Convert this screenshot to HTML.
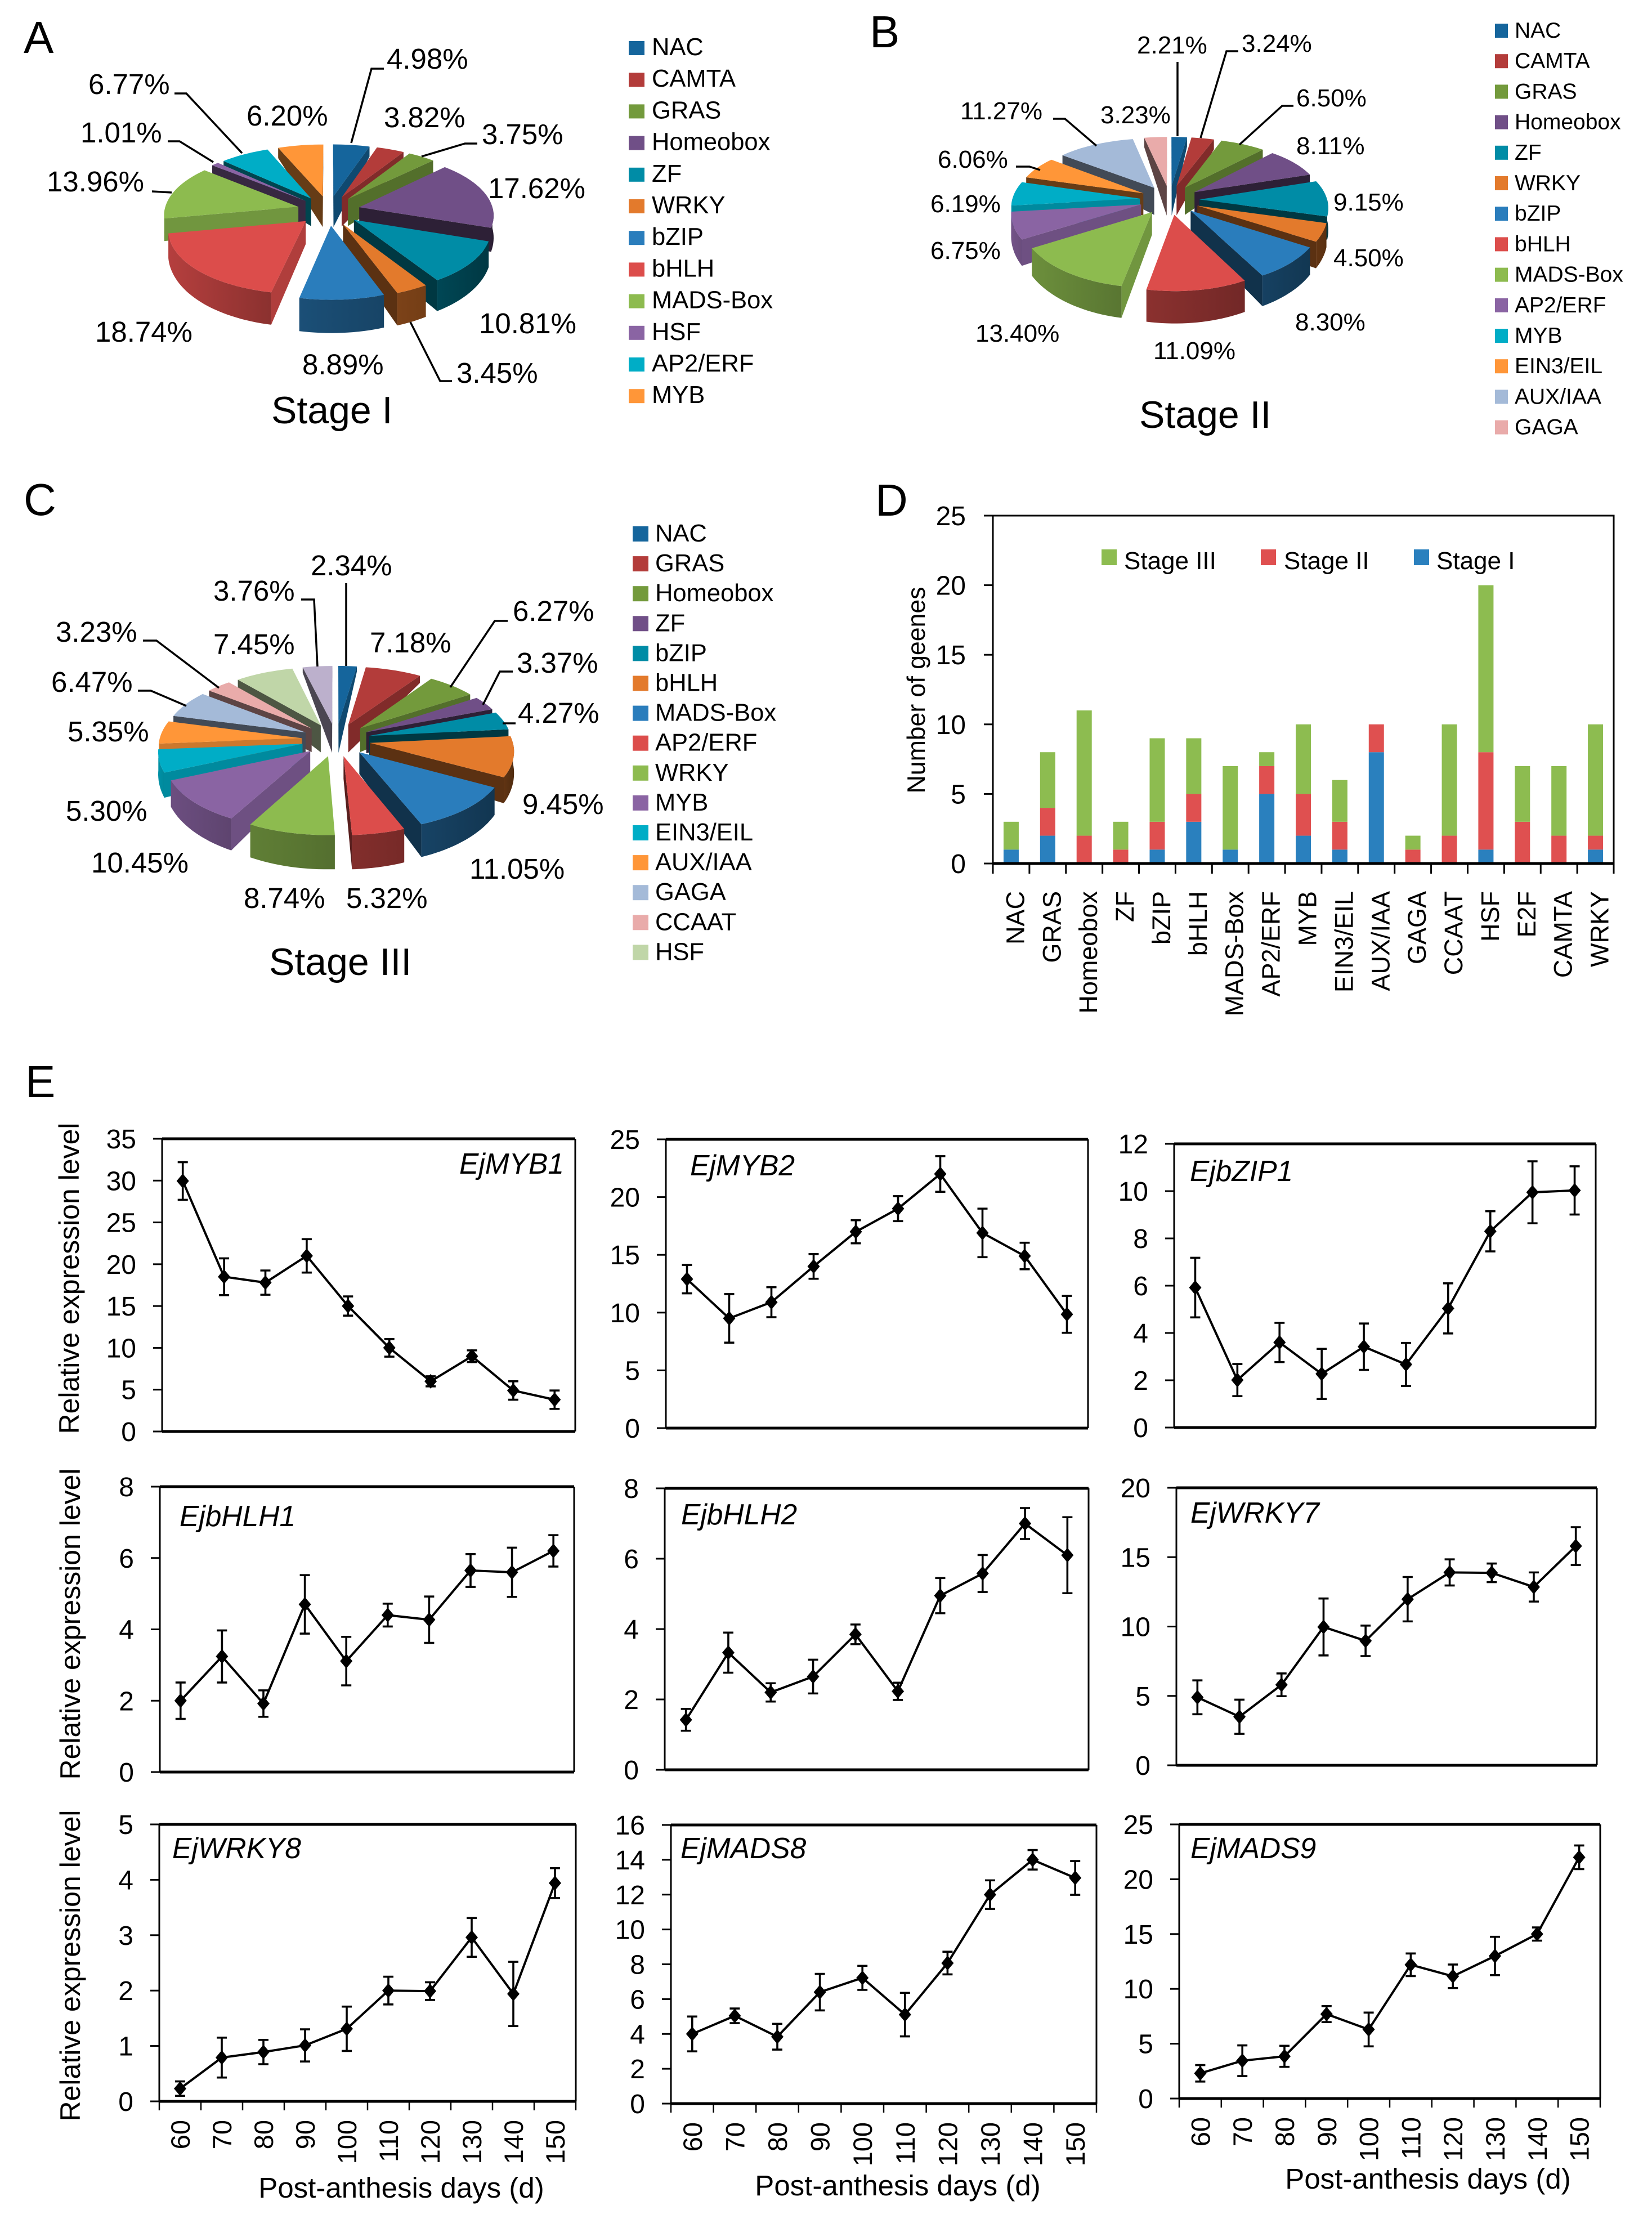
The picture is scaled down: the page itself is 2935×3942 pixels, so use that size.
<!DOCTYPE html>
<html lang="en">
<head>
<meta charset="utf-8">
<title>Transcription factor distribution and expression</title>
<style>
html,body{margin:0;padding:0;background:#fff;}
svg{display:block;}
text{font-family:"Liberation Sans",sans-serif;fill:#000;}
.panel{font-size:80px;}
.stage{font-size:68px;}
.pa{font-size:51px;}
.pb{font-size:44px;}
.leader{fill:none;stroke:#000;stroke-width:3.5;}
</style>
</head>
<body>
<svg id="fig" xmlns="http://www.w3.org/2000/svg" width="2935" height="3942" viewBox="0 0 2935 3942">
<rect x="0" y="0" width="2935" height="3942" fill="#fff"/>
<defs id="defs"></defs>
<g id="pieA"></g>
<g id="pieB"></g>
<g id="pieC"></g>

<text class="panel" x="42" y="94">A</text>
<text class="panel" x="1545" y="84">B</text>
<text class="panel" x="42" y="915">C</text>
<text class="panel" x="1555" y="916">D</text>
<text class="panel" x="45" y="1949">E</text>

<text class="stage" x="482" y="752">Stage I</text>
<text class="stage" x="2024" y="760">Stage II</text>
<text class="stage" x="478" y="1732">Stage III</text>

<g>
<text class="pa" x="687" y="122">4.98%</text>
<text class="pa" x="157" y="167">6.77%</text>
<text class="pa" x="438" y="223">6.20%</text>
<text class="pa" x="682" y="226">3.82%</text>
<text class="pa" x="856" y="256">3.75%</text>
<text class="pa" x="143" y="253">1.01%</text>
<text class="pa" x="867" y="352">17.62%</text>
<text class="pa" x="83" y="340">13.96%</text>
<text class="pa" x="851" y="592">10.81%</text>
<text class="pa" x="169" y="607">18.74%</text>
<text class="pa" x="537" y="665">8.89%</text>
<text class="pa" x="811" y="680">3.45%</text>
<polyline class="leader" points="682,122 660,122 624,254"/>
<polyline class="leader" points="310,166 331,166 430,272"/>
<polyline class="leader" points="298,251 319,251 379,288"/>
<polyline class="leader" points="848,255 826,255 749,278"/>
<polyline class="leader" points="270,340 305,342"/>
<polyline class="leader" points="803,677 782,677 729,572"/>
</g>

<g>
<text class="pb" x="2020" y="95">2.21%</text>
<text class="pb" x="2206" y="92">3.24%</text>
<text class="pb" x="2303" y="189">6.50%</text>
<text class="pb" x="2303" y="274">8.11%</text>
<text class="pb" x="1955" y="219">3.23%</text>
<text class="pb" x="1706" y="212">11.27%</text>
<text class="pb" x="1666" y="298">6.06%</text>
<text class="pb" x="2369" y="374">9.15%</text>
<text class="pb" x="1653" y="377">6.19%</text>
<text class="pb" x="2369" y="473">4.50%</text>
<text class="pb" x="1653" y="460">6.75%</text>
<text class="pb" x="2301" y="587">8.30%</text>
<text class="pb" x="1733" y="607">13.40%</text>
<text class="pb" x="2049" y="638">11.09%</text>
<polyline class="leader" points="2092,110 2092,242"/>
<polyline class="leader" points="2200,91 2179,91 2133,245"/>
<polyline class="leader" points="2298,188 2278,188 2202,257"/>
<polyline class="leader" points="1871,211 1892,211 1948,259"/>
<polyline class="leader" points="1805,296 1829,296 1848,302"/>
</g>

<g>
<text class="pa" x="552" y="1022">2.34%</text>
<text class="pa" x="379" y="1067">3.76%</text>
<text class="pa" x="911" y="1103">6.27%</text>
<text class="pa" x="379" y="1162">7.45%</text>
<text class="pa" x="657" y="1159">7.18%</text>
<text class="pa" x="99" y="1140">3.23%</text>
<text class="pa" x="918" y="1195">3.37%</text>
<text class="pa" x="91" y="1229">6.47%</text>
<text class="pa" x="920" y="1284">4.27%</text>
<text class="pa" x="120" y="1317">5.35%</text>
<text class="pa" x="928" y="1446">9.45%</text>
<text class="pa" x="117" y="1458">5.30%</text>
<text class="pa" x="162" y="1550">10.45%</text>
<text class="pa" x="834" y="1561">11.05%</text>
<text class="pa" x="433" y="1613">8.74%</text>
<text class="pa" x="615" y="1613">5.32%</text>
<polyline class="leader" points="615,1036 615,1183"/>
<polyline class="leader" points="535,1065 558,1065 564,1184"/>
<polyline class="leader" points="902,1103 879,1103 800,1221"/>
<polyline class="leader" points="911,1193 888,1193 858,1252"/>
<polyline class="leader" points="916,1285 893,1285"/>
<polyline class="leader" points="254,1138 278,1138 389,1222"/>
<polyline class="leader" points="245,1227 268,1227 331,1254"/>
</g>

<text font-size="50" transform="translate(140,2271) rotate(-90)" text-anchor="middle">Relative expression level</text>
<text font-size="50" transform="translate(142,2885) rotate(-90)" text-anchor="middle">Relative expression level</text>
<text font-size="50" transform="translate(142,3492) rotate(-90)" text-anchor="middle">Relative expression level</text>
<text font-size="51" x="713" y="3904" text-anchor="middle">Post-anthesis days (d)</text>
<text font-size="51" x="1595" y="3900" text-anchor="middle">Post-anthesis days (d)</text>
<text font-size="51" x="2537" y="3888" text-anchor="middle">Post-anthesis days (d)</text>

<g id="barChart">
<text font-size="44.6" transform="translate(1643,1226) rotate(-90)" text-anchor="middle">Number of geenes</text>
<rect x="1957" y="976" width="27" height="28" fill="#8DBC50"/>
<text font-size="44" x="1997" y="1011">Stage III</text>
<rect x="2240" y="976" width="27" height="28" fill="#DF5050"/>
<text font-size="44" x="2281" y="1011">Stage II</text>
<rect x="2512" y="976" width="27" height="28" fill="#2A80BE"/>
<text font-size="44" x="2552" y="1011">Stage I</text>
</g>
<g id="lineCharts"></g>
</svg>

<script>
/* ---------- pie data ---------- */
const pieANames = ['NAC','CAMTA','GRAS','Homeobox','ZF','WRKY','bZIP','bHLH','MADS-Box','HSF','AP2/ERF','MYB'];
const pieAValues = [4.98,3.82,3.75,17.62,10.81,3.45,8.89,18.74,13.96,1.01,6.77,6.20];
const pieBNames = ['NAC','CAMTA','GRAS','Homeobox','ZF','WRKY','bZIP','bHLH','MADS-Box','AP2/ERF','MYB','EIN3/EIL','AUX/IAA','GAGA'];
const pieBValues = [2.21,3.24,6.50,8.11,9.15,4.50,8.30,11.09,13.40,6.75,6.19,6.06,11.27,3.23];
const pieCNames = ['NAC','GRAS','Homeobox','ZF','bZIP','bHLH','MADS-Box','AP2/ERF','WRKY','MYB','EIN3/EIL','AUX/IAA','GAGA','CCAAT','HSF'];
const pieCValues = [2.34,7.18,6.27,3.37,4.27,9.45,11.05,5.32,8.74,10.45,5.30,5.35,6.47,3.23,7.45,3.76];
const slicePalette = ['#15659C','#B33C3A','#739A3C','#704F87','#008CA6','#E37A2C','#2A7DBC','#DC4D4B','#8DBB4F','#8A64A3','#00ADC6','#FF9638','#A4BAD8','#E9ABAA','#C0D6A8','#BCB0CC'];

/* ---------- stacked bar data ---------- */
const barCategories = ['NAC','GRAS','Homeobox','ZF','bZIP','bHLH','MADS-Box','AP2/ERF','MYB','EIN3/EIL','AUX/IAA','GAGA','CCAAT','HSF','E2F','CAMTA','WRKY'];
const stage1Counts = [1,2,0,0,1,3,1,5,2,1,8,0,0,1,0,0,1];
const stage2Counts = [0,2,2,1,2,2,0,2,3,2,2,1,2,7,3,2,1];
const stage3Counts = [2,4,9,2,6,4,6,1,5,3,0,1,8,12,4,5,8];
const barTicks = [0,5,10,15,20,25];

/* ---------- line chart data ---------- */
const days = [60,70,80,90,100,110,120,130,140,150];
const myb1Ticks = [0,5,10,15,20,25,30,35];
const myb1Values = [29.95,18.5,17.8,21,15,10,6,9,4.9,3.8];
const myb1Errors = [2.25,2.2,1.45,2,1.15,1.05,0.6,0.7,1.1,1.1];
const myb2Ticks = [0,5,10,15,20,25];
const myb2Values = [12.9,9.5,10.9,14,17,19,22,16.9,14.9,9.85];
const myb2Errors = [1.23,2.1,1.3,1.07,1,1.08,1.54,2.1,1.15,1.6];
const bzip1Ticks = [0,2,4,6,8,10,12];
const bzip1Values = [5.92,2.01,3.6,2.27,3.42,2.67,5.04,8.3,9.95,10.03];
const bzip1Errors = [1.26,0.68,0.83,1.06,0.98,0.91,1.06,0.85,1.31,1.02];
const bhlh1Ticks = [0,2,4,6,8];
const bhlh1Values = [2,3.24,1.92,4.7,3.11,4.4,4.27,5.65,5.6,6.2];
const bhlh1Errors = [0.51,0.73,0.37,0.82,0.68,0.32,0.65,0.46,0.69,0.44];
const bhlh2Ticks = [0,2,4,6,8];
const bhlh2Values = [1.42,3.33,2.2,2.65,3.85,2.23,4.95,5.58,7,6.1];
const bhlh2Errors = [0.31,0.57,0.26,0.48,0.28,0.245,0.5,0.525,0.44,1.08];
const wrky7Ticks = [0,5,10,15,20];
const wrky7Values = [4.9,3.5,5.8,9.97,8.97,11.97,13.9,13.87,12.85,15.8];
const wrky7Errors = [1.22,1.23,0.82,2.05,1.1,1.6,0.94,0.67,1.05,1.36];
const wrky8Ticks = [0,1,2,3,4,5];
const wrky8Values = [0.23,0.79,0.89,1.01,1.31,2,1.99,2.96,1.94,3.94];
const wrky8Errors = [0.13,0.36,0.22,0.29,0.4,0.25,0.16,0.35,0.58,0.27];
const mads8Ticks = [0,2,4,6,8,10,12,14,16];
const mads8Values = [4,5.04,3.84,6.4,7.22,5.11,8.07,12,14,12.96];
const mads8Errors = [1,0.42,0.74,1.05,0.69,1.25,0.65,0.82,0.56,0.97];
const mads9Ticks = [0,5,10,15,20,25];
const mads9Values = [2.3,3.45,3.85,7.7,6.3,12.2,11.15,13,15,22];
const mads9Errors = [0.75,1.4,0.96,0.73,1.54,1.03,1.07,1.75,0.6,1.08];

const NS = 'http://www.w3.org/2000/svg';
const svgRoot = document.getElementById('fig');
const defsEl = document.getElementById('defs');

function make(tag, attrs, parent) {
  const el = document.createElementNS(NS, tag);
  for (const k in attrs) el.setAttribute(k, attrs[k]);
  parent.appendChild(el);
  return el;
}
function shade(hex, f) {
  const n = parseInt(hex.slice(1), 16);
  const r = Math.round(((n >> 16) & 255) * f), g = Math.round(((n >> 8) & 255) * f), b = Math.round((n & 255) * f);
  return 'rgb(' + r + ',' + g + ',' + b + ')';
}
function slug(s) { return s.toLowerCase().replace(/[^a-z0-9]+/g, '-'); }

/* ---------- exploded 3D pie ---------- */
let gradCounter = 0;
function drawPie(group, cfg, values, names) {
  const rad = Math.PI / 180;
  function proj(X, Y, z, extra) {
    const u = Y / cfg.R;
    const fx = 1 / (1 - cfg.kx * u);
    return [cfg.cx + X * fx, cfg.cy + cfg.T * Y * (1 + cfg.m * u) + z * (cfg.D * (1 + cfg.d * u) + (extra || 0))];
  }
  function radialShade(t) {
    if (t < 60) return 0.72;
    if (t <= 180 || t > 270) return 0.4;
    return 0.8;
  }
  function outerShade(t) { return 0.35 + 0.5 * (t - 90) / 180; }
  function poly(pts) {
    return 'M' + pts.map(p => p[0].toFixed(1) + ' ' + p[1].toFixed(1)).join('L') + 'Z';
  }
  function area(q) {
    let s = 0;
    for (let i = 0; i < q.length; i++) {
      const a = q[i], b = q[(i + 1) % q.length];
      s += a[0] * b[1] - b[0] * a[1];
    }
    return s;
  }
  const total = values.reduce((a, b) => a + b, 0);
  let cum = 0;
  const slices = values.map((v, i) => {
    const t0 = cum / total * 360;
    cum += v;
    const t1 = cum / total * 360;
    const mid = (t0 + t1) / 2;
    return { i, t0, t1, mid, ex: cfg.e * Math.sin(mid * rad), ey: -cfg.e * Math.cos(mid * rad) };
  });
  slices.slice().sort((a, b) => a.ey - b.ey).forEach(s => {
    const color = slicePalette[s.i];
    const label = names[s.i] ? slug(names[s.i]) : 'unlabelled';
    const g = make('g', {}, group);
    
    
    const rim = (t, z) => proj(s.ex + cfg.R * Math.sin(t * rad), s.ey - cfg.R * Math.cos(t * rad), z);
    const apexExtra = cfg.b * Math.pow(Math.max(0, Math.cos(s.mid * rad)), 2);
    const apexTop = proj(s.ex, s.ey, 0);
    const apexBot = proj(s.ex, s.ey, 1, apexExtra);

    const startQuad = [apexTop, rim(s.t0, 0), rim(s.t0, 1), apexBot];
    if (area(startQuad) < 0) {
      const w = make('path', { d: poly(startQuad), fill: shade(color, radialShade(s.t0)) }, g);
      
      
    }
    const endQuad = [apexTop, rim(s.t1, 0), rim(s.t1, 1), apexBot];
    if (area(endQuad) > 0) {
      const w = make('path', { d: poly(endQuad), fill: shade(color, radialShade(s.t1)) }, g);
      
      
    }
    const a0 = Math.max(s.t0, 90), a1 = Math.min(s.t1, 270);
    if (a1 > a0) {
      const upper = [], lower = [];
      for (let t = a0; ; t += 2) {
        const tt = Math.min(t, a1);
        upper.push(rim(tt, 0));
        lower.push(rim(tt, 1));
        if (tt >= a1) break;
      }
      const pts = upper.concat(lower.reverse());
      const xs = pts.map(p => p[0]);
      const gid = 'wallGrad' + (gradCounter++);
      const lg = make('linearGradient', { id: gid, gradientUnits: 'userSpaceOnUse', x1: Math.min(...xs), x2: Math.max(...xs), y1: 0, y2: 0 }, defsEl);
      make('stop', { offset: '0', 'stop-color': shade(color, outerShade(a1)) }, lg);
      make('stop', { offset: '1', 'stop-color': shade(color, outerShade(a0)) }, lg);
      const w = make('path', { d: poly(pts), fill: 'url(#' + gid + ')' }, g);
      
      
    }
    const top = [apexTop];
    for (let t = s.t0; ; t += 2) {
      const tt = Math.min(t, s.t1);
      top.push(rim(tt, 0));
      if (tt >= s.t1) break;
    }
    const face = make('path', { d: poly(top), fill: color }, g);
    
    
  });
}

function drawPieLegend(group, cfg, names) {
  names.forEach((name, i) => {
    const baseline = cfg.y + i * cfg.step;
    const sw = make('rect', { x: cfg.x, y: baseline - cfg.h, width: cfg.w, height: cfg.h, fill: slicePalette[i] }, group);
    
    
    const t = make('text', { x: cfg.textX, y: baseline, 'font-size': cfg.font }, group);
    t.textContent = name;
    
    
  });
}

drawPie(document.getElementById('pieA'), { cx: 584, cy: 374, R: 238, T: 0.47, kx: 0.11, m: 0.12, e: 56, D: 38, d: 0.45, b: 21 }, pieAValues, pieANames);
drawPie(document.getElementById('pieB'), { cx: 2078, cy: 355, R: 227, T: 0.49, kx: 0.11, m: 0.15, e: 53, D: 37, d: 0.45, b: 20 }, pieBValues, pieBNames);
drawPie(document.getElementById('pieC'), { cx: 597, cy: 1314, R: 253, T: 0.48, kx: 0.10, m: 0.105, e: 61, D: 35, d: 0.6, b: 22 }, pieCValues, pieCNames);
drawPieLegend(document.getElementById('pieA'), { x: 1117, y: 98, step: 56.2, w: 28, h: 25, textX: 1158, font: 43.5 }, pieANames);
drawPieLegend(document.getElementById('pieB'), { x: 2656, y: 67, step: 54.2, w: 23, h: 25, textX: 2691, font: 39 }, pieBNames);
drawPieLegend(document.getElementById('pieC'), { x: 1124, y: 962, step: 53.1, w: 28, h: 27, textX: 1164, font: 43.5 }, pieCNames);

/* ---------- stacked bars ---------- */
(function drawBars() {
  const g = document.getElementById('barChart');
  const left = 1764, right = 2867, top = 916, bottom = 1534;
  const maxV = barTicks[barTicks.length - 1];
  const yScale = v => bottom - v / maxV * (bottom - top);
  const band = (right - left) / barCategories.length;
  const barW = 27;
  barCategories.forEach((cat, i) => {
    const cx = left + (i + 0.5) * band;
    const stacks = [[stage1Counts[i], '#2A80BE', 'stage-1'], [stage2Counts[i], '#DF5050', 'stage-2'], [stage3Counts[i], '#8DBC50', 'stage-3']];
    let base = 0;
    stacks.forEach(st => {
      if (st[0] > 0) {
        const r = make('rect', { x: cx - barW / 2, y: yScale(base + st[0]), width: barW, height: yScale(base) - yScale(base + st[0]), fill: st[1] }, g);
        
        
      }
      base += st[0];
    });
    const lab = make('text', { transform: 'translate(' + (cx + 23) + ',1583) rotate(-90)', 'text-anchor': 'end', 'font-size': 45 }, g);
    lab.textContent = cat;
    
    
  });
  for (let i = 0; i <= barCategories.length; i++) {
    const x = left + i * band;
    const tk = make('line', { x1: x, x2: x, y1: bottom, y2: bottom + 18, stroke: '#000', 'stroke-width': 3 }, g);
    
    
  }
  barTicks.forEach(v => {
    const y = yScale(v);
    const tk = make('line', { x1: left - 16, x2: left, y1: y, y2: y, stroke: '#000', 'stroke-width': 3 }, g);
    
    
    const t = make('text', { x: 1716, y: y + 17, 'text-anchor': 'end', 'font-size': 48 }, g);
    t.textContent = v;
    
    
  });
  const frame = make('path', { d: 'M' + left + ' ' + top + 'H' + right + 'V' + bottom + 'H' + left + 'Z', fill: 'none', stroke: '#000', 'stroke-width': 3 }, g);
  
  
  const axis = make('line', { x1: left, x2: right, y1: bottom, y2: bottom, stroke: '#000', 'stroke-width': 5 }, g);
  
  
})();

/* ---------- line charts ---------- */
function drawLineChart(cfg, ticks, values, errors) {
  const root = document.getElementById('lineCharts');
  const g = make('g', {}, root);
  
  
  const { left, right, top, bottom } = cfg;
  const maxV = ticks[ticks.length - 1];
  const yScale = v => bottom - v / maxV * (bottom - top);
  const band = (right - left) / days.length;
  const xScale = i => left + (i + 0.5) * band;

  const vert = make('path', { d: 'M' + left + ' ' + top + 'V' + bottom + 'M' + right + ' ' + top + 'V' + bottom, stroke: '#000', 'stroke-width': 3, fill: 'none' }, g);
  
  
  const horiz = make('path', { d: 'M' + left + ' ' + top + 'H' + right + 'M' + left + ' ' + bottom + 'H' + right, stroke: '#000', 'stroke-width': 5, fill: 'none' }, g);
  
  

  ticks.forEach(v => {
    const y = yScale(v);
    const tk = make('line', { x1: left - 16, x2: left, y1: y, y2: y, stroke: '#000', 'stroke-width': 3 }, g);
    
    
    const t = make('text', { x: left - 46, y: y + 17, 'text-anchor': 'end', 'font-size': 48 }, g);
    t.textContent = v;
    
    
  });
  if (cfg.xLabels) {
    for (let i = 0; i <= days.length; i++) {
      const x = left + i * band;
      const tk = make('line', { x1: x, x2: x, y1: bottom, y2: bottom + 16, stroke: '#000', 'stroke-width': 2.5 }, g);
      
      
    }
    days.forEach((d, i) => {
      const t = make('text', { transform: 'translate(' + (xScale(i) + 17) + ',' + (bottom + 33) + ') rotate(-90)', 'text-anchor': 'end', 'font-size': 47 }, g);
      t.textContent = d;
      
      
    });
  }
  const pts = values.map((v, i) => xScale(i).toFixed(1) + ',' + yScale(v).toFixed(1)).join(' ');
  const line = make('polyline', { points: pts, fill: 'none', stroke: '#000', 'stroke-width': 4 }, g);
  
  
  values.forEach((v, i) => {
    const x = xScale(i), yHi = yScale(v + errors[i]), yLo = yScale(v - errors[i]), y = yScale(v);
    const eb = make('path', { d: 'M' + x + ' ' + yHi + 'V' + yLo + 'M' + (x - 9) + ' ' + yHi + 'H' + (x + 9) + 'M' + (x - 9) + ' ' + yLo + 'H' + (x + 9), fill: 'none', stroke: '#000', 'stroke-width': 3.6 }, g);
    
    
    const pt = make('polygon', { points: [x - 11, y, x, y - 13, x + 11, y, x, y + 13].join(','), fill: '#000' }, g);
    
    
  });
  const title = make('text', { x: cfg.labelX, y: cfg.labelY, 'font-size': 51.5, 'font-style': 'italic' }, g);
  title.textContent = cfg.gene;
  
  
}

drawLineChart({ gene: 'EjMYB1', left: 288, right: 1022, top: 2023, bottom: 2543, labelX: 816, labelY: 2085 }, myb1Ticks, myb1Values, myb1Errors);
drawLineChart({ gene: 'EjMYB2', left: 1183, right: 1933, top: 2024, bottom: 2537, labelX: 1226, labelY: 2088 }, myb2Ticks, myb2Values, myb2Errors);
drawLineChart({ gene: 'EjbZIP1', left: 2086, right: 2835, top: 2032, bottom: 2536, labelX: 2114, labelY: 2098 }, bzip1Ticks, bzip1Values, bzip1Errors);
drawLineChart({ gene: 'EjbHLH1', left: 284, right: 1020, top: 2641, bottom: 3148, labelX: 319, labelY: 2711 }, bhlh1Ticks, bhlh1Values, bhlh1Errors);
drawLineChart({ gene: 'EjbHLH2', left: 1181, right: 1934, top: 2644, bottom: 3144, labelX: 1210, labelY: 2708 }, bhlh2Ticks, bhlh2Values, bhlh2Errors);
drawLineChart({ gene: 'EjWRKY7', left: 2090, right: 2837, top: 2643, bottom: 3136, labelX: 2115, labelY: 2705 }, wrky7Ticks, wrky7Values, wrky7Errors);
drawLineChart({ gene: 'EjWRKY8', left: 283, right: 1023, top: 3241, bottom: 3733, labelX: 306, labelY: 3301, xLabels: true }, wrky8Ticks, wrky8Values, wrky8Errors);
drawLineChart({ gene: 'EjMADS8', left: 1192, right: 1948, top: 3242, bottom: 3737, labelX: 1209, labelY: 3301, xLabels: true }, mads8Ticks, mads8Values, mads8Errors);
drawLineChart({ gene: 'EjMADS9', left: 2095, right: 2843, top: 3241, bottom: 3728, labelX: 2115, labelY: 3301, xLabels: true }, mads9Ticks, mads9Values, mads9Errors);
</script>
</body>
</html>
